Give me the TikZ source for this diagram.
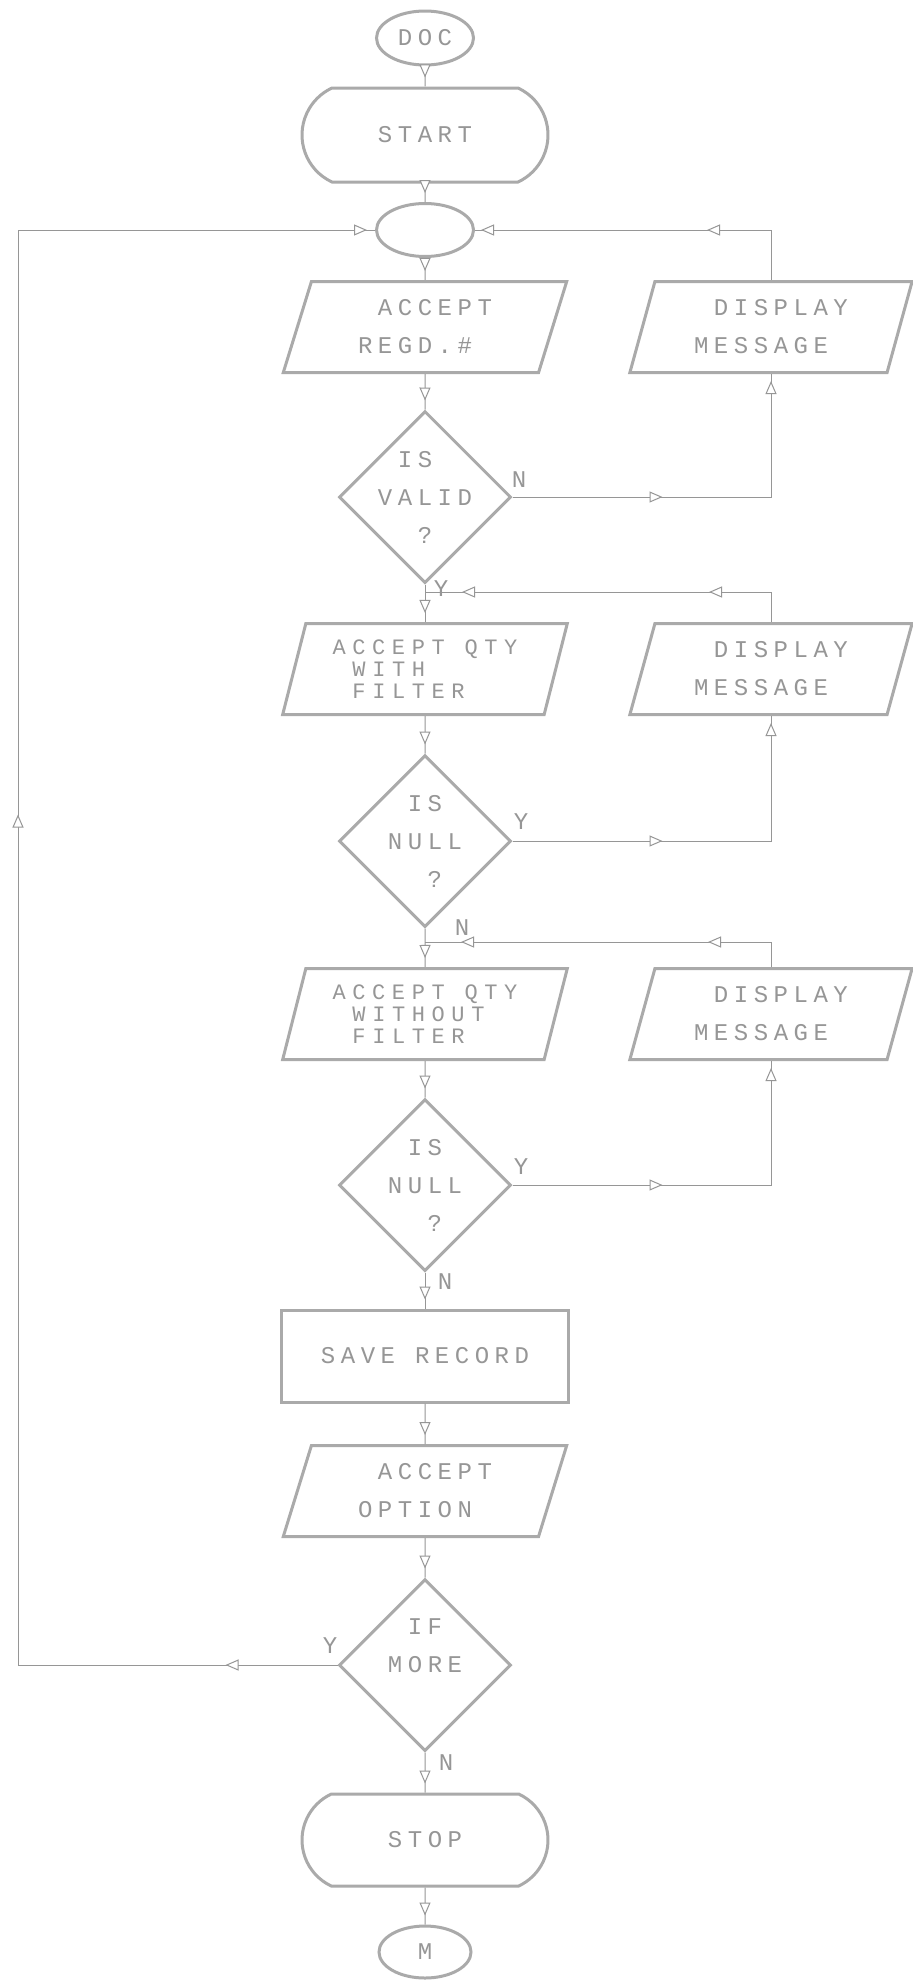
\documentclass[tikz,border=0pt]{standalone}
\usepackage{fontspec}
\newfontfamily\dotfont[LetterSpace=23]{Liberation Mono}
\newfontfamily\dotfontnarrow[LetterSpace=30]{Liberation Mono}
\usetikzlibrary{shapes.geometric,shapes.misc,arrows.meta,decorations.markings}

\definecolor{ink}{RGB}{150,150,150}
\definecolor{edge}{RGB}{170,170,170}
\definecolor{txt}{RGB}{150,150,150}

% one character cell of the printer font
\newcommand\ind{\hspace*{9.95pt}}

\tikzset{Tri/.tip={Triangle[length=6.5pt,width=5.5pt,fill=white]}}

\begin{document}
\begin{tikzpicture}[x=0.5pt,y=-0.5pt,
  every node/.style={font=\dotfont\fontsize{12}{19}\selectfont, text=txt},
  box/.style={draw=edge, line width=1.5pt, inner sep=0pt},
  oval/.style={box, ellipse, minimum width=48.5pt, minimum height=27pt},
  terminal/.style={box, rounded rectangle, rounded rectangle arc length=130,
    minimum width=123pt, minimum height=47pt},
  io/.style={box, trapezium, trapezium left angle=73, trapezium right angle=107,
    trapezium stretches=true, minimum width=142.5pt, minimum height=45.5pt, align=left},
  tight/.style={font=\dotfontnarrow\fontsize{11}{11}\selectfont},
  process/.style={box, rectangle, minimum width=143.5pt, minimum height=46pt},
  decision/.style={box, diamond, aspect=1, minimum width=86pt, minimum height=86pt},
  dtext/.style={align=left, draw=none},
  flow/.style={draw=ink, line width=0.5pt},
  tipat/.style={postaction={decorate, decoration={markings,
    mark=at position #1 with {\arrow[ink]{Tri}}}}},
  tag/.style={text=txt, inner sep=0pt}
]
\path[use as bounding box, fill=white] (0,0) rectangle (913,1982);

% main column
\node[oval] (doc) at (425,38) {DOC};
\node[terminal] (start) at (425,135) {START};
\node[oval, minimum height=26.5pt] (conn) at (425,230) {};
\node[io] (regd) at (425,327) {\ind ACCEPT\\REGD.\#};
\node[decision, label={[dtext]center:{\ind IS\\VALID\\\ind\ind ?}}] (valid) at (425,497) {};
\node[io, tight] (with) at (425,669) {ACCEPT QTY\\\ind WITH\\\ind FILTER};
\node[decision, label={[dtext]center:{\ind IS\\NULL\\\ind\ind ?}}] (null1) at (425,841) {};
\node[io, tight] (without) at (425,1014) {ACCEPT QTY\\\ind WITHOUT\\\ind FILTER};
\node[decision, label={[dtext]center:{\ind IS\\NULL\\\ind\ind ?}}] (null2) at (425,1185) {};
\node[process] (save) at (425,1356) {SAVE RECORD};
\node[io] (option) at (425,1491) {\ind ACCEPT\\OPTION};
\node[decision, label={[dtext]center:{\ind IF\\MORE\\~}}] (more) at (425,1665) {};
\node[terminal, minimum height=46pt] (stop) at (425,1840) {STOP};
\node[oval, minimum width=46pt, minimum height=26pt] (m) at (425,1952) {M};

% error messages
\node[io] (disp1) at (771,327) {\ind DISPLAY\\MESSAGE};
\node[io] (disp2) at (771,669) {\ind DISPLAY\\MESSAGE};
\node[io] (disp3) at (771,1014) {\ind DISPLAY\\MESSAGE};

% junctions
\coordinate (j1) at (425,592);
\coordinate (j2) at (425,942);
\coordinate (lb) at (18,1665);
\coordinate (lt) at (18,230);

% main flow
\draw[flow, tipat=-4.5pt] (doc) -- (start);
\draw[flow, tipat=-4.5pt] (start) -- (conn);
\draw[flow, tipat=-4.5pt] (conn) -- (regd);
\draw[flow, tipat=-4.5pt] (regd) -- (valid);
\draw[flow, tipat=-4.5pt] (valid) -- (with);
\draw[flow, tipat=-4.5pt] (with) -- (null1);
\draw[flow, tipat=-4.5pt] (null1) -- (without);
\draw[flow, tipat=-4.5pt] (without) -- (null2);
\draw[flow, tipat=-4.5pt] (null2) -- (save);
\draw[flow, tipat=-4.5pt] (save) -- (option);
\draw[flow, tipat=-4.5pt] (option) -- (more);
\draw[flow, tipat=-4.5pt] (more) -- (stop);
\draw[flow, tipat=-4.5pt] (stop) -- (m);

% branches to the messages and back
\draw[flow, tipat=75pt, tipat=-3.5pt] (valid.east) -| (disp1.south);
\draw[flow, tipat=57pt, tipat=-3pt] (disp1.north) |- (conn.east);
\draw[flow, tipat=75pt, tipat=-3.5pt] (null1.east) -| (disp2.south);
\draw[flow, tipat=46pt, tipat=-18.5pt] (disp2.north) |- (j1);
\draw[flow, tipat=75pt, tipat=-3.5pt] (null2.east) -| (disp3.south);
\draw[flow, tipat=44pt, tipat=-18pt] (disp3.north) |- (j2);

% loop back for more entries
\draw[flow, tipat=56pt, tipat=585pt, tipat=-4pt] (more.west) -- (lb) -- (lt) -- (conn.west);

% branch labels
\node[tag] (n1) at (519,480) {N};
\node[tag] (y1) at (441,589) {Y};
\node[tag] (y2) at (521,822) {Y};
\node[tag] (n2) at (462,928) {N};
\node[tag] (y3) at (521,1167) {Y};
\node[tag] (n3) at (445,1282) {N};
\node[tag] (y4) at (330,1646) {Y};
\node[tag] (n4) at (446,1763) {N};
\end{tikzpicture}
\end{document}
